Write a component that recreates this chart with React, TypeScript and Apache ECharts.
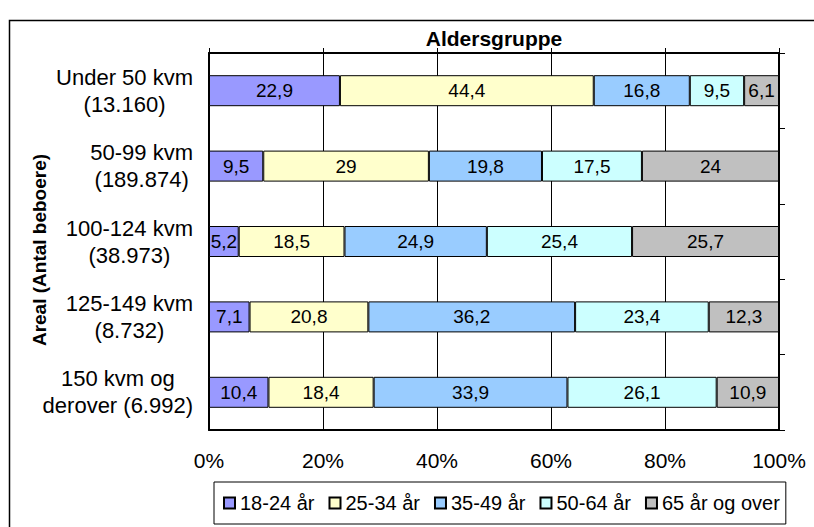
import React, { useEffect, useRef } from 'react';
import * as echarts from 'echarts';

const categories = [
  'Under 50 kvm\n(13.160)',
  '50-99 kvm\n(189.874)',
  '100-124 kvm\n(38.973)',
  '125-149 kvm\n(8.732)',
  '150 kvm og\nderover (6.992)',
];
const seriesNames = ['18-24 år', '25-34 år', '35-49 år', '50-64 år', '65 år og over'];
const age18to24 = [22.9, 9.5, 5.2, 7.1, 10.4];
const age25to34 = [44.4, 29, 18.5, 20.8, 18.4];
const age35to49 = [16.8, 19.8, 24.9, 36.2, 33.9];
const age50to64 = [9.5, 17.5, 25.4, 23.4, 26.1];
const age65plus = [6.1, 24, 25.7, 12.3, 10.9];
const colors = ['#9999FF', '#FFFFCC', '#99CCFF', '#CCFFFF', '#C0C0C0'];

const FONT = '"Liberation Sans", Arial, sans-serif';

export default function App() {
  const ref = useRef<HTMLDivElement>(null);
  useEffect(() => {
    if (!ref.current) return;
    const chart = echarts.init(ref.current, null, { renderer: 'svg' });
    const groups = [age18to24, age25to34, age35to49, age50to64, age65plus];
    const rowSums = categories.map((_, i) => groups.reduce((s, g) => s + g[i], 0));
    const series = groups.map((vals, gi) => ({
      name: seriesNames[gi],
      type: 'bar',
      stack: 'total',
      barWidth: 31,
      xAxisIndex: 0,
      yAxisIndex: 0,
      data: vals.map((v, i) => (v / rowSums[i]) * 100),
      itemStyle: { color: colors[gi], borderColor: '#000', borderWidth: 1 },
      label: {
        show: true,
        position: 'inside',
        formatter: (p: any) => String(vals[p.dataIndex]).replace('.', ','),
        fontSize: 19,
        color: '#000',
        fontFamily: FONT,
      },
    }));
    chart.setOption({
      animation: false,
      backgroundColor: '#fff',
      grid: { left: 209, top: 53, width: 570, height: 377 },
      xAxis: [
        {
          type: 'value', min: 0, max: 100, interval: 20, position: 'bottom',
          axisLine: { show: true, onZero: false, lineStyle: { color: '#000', width: 2 } },
          axisTick: { show: false },
          axisLabel: { formatter: '{value}%', fontSize: 21, color: '#000', margin: 20, fontFamily: FONT },
          splitLine: { show: true, lineStyle: { color: '#000', width: 1 } },
        },
        {
          type: 'value', min: 0, max: 100, interval: 20, position: 'top',
          axisLine: { show: true, onZero: false, lineStyle: { color: '#000', width: 2 } },
          axisTick: { show: true, length: 5, lineStyle: { color: '#000', width: 1 } },
          axisLabel: { show: false },
          splitLine: { show: false },
        },
      ],
      yAxis: [
        {
          type: 'category', data: categories, inverse: true, position: 'left',
          axisLine: { show: true, onZero: false, lineStyle: { color: '#000', width: 2 } },
          axisTick: { show: false },
          axisLabel: {
            margin: 16,
            formatter: (v: string) => v.split('\n').map((l) => `{c|${l}}`).join('\n'),
            rich: { c: { fontSize: 22, lineHeight: 27, align: 'center', color: '#000', fontFamily: FONT } },
          },
        },
        {
          type: 'category', data: categories, inverse: true, position: 'right',
          axisLine: { show: true, onZero: false, lineStyle: { color: '#000', width: 2 } },
          axisTick: { show: true, length: 6, lineStyle: { color: '#000', width: 1 } },
          axisLabel: { show: false },
        },
      ],
      legend: {
        data: seriesNames,
        left: 214, top: 482,
        borderColor: '#000', borderWidth: 1,
        padding: [11, 6, 11, 9],
        itemGap: 14, itemWidth: 11, itemHeight: 11, icon: 'rect',
        textStyle: { fontSize: 20, color: '#000', fontFamily: FONT },
      },
      graphic: [
        {
          type: 'rect', silent: true,
          shape: { x: 9.5, y: 20.5, width: 900, height: 700 },
          style: { fill: 'none', stroke: '#000', lineWidth: 1.5 },
        },
        {
          type: 'text', x: 494, y: 38,
          style: { text: 'Aldersgruppe', align: 'center', verticalAlign: 'middle', font: `bold 21px ${FONT}`, fill: '#000' },
        },
        {
          type: 'text', x: 39, y: 250, rotation: Math.PI / 2,
          style: { text: 'Areal (Antal beboere)', align: 'center', verticalAlign: 'middle', font: `bold 19px ${FONT}`, fill: '#000' },
        },
      ],
      series,
    });
    return () => chart.dispose();
  }, []);
  return <div ref={ref} style={{ position: 'absolute', left: 0, top: 0, width: 814, height: 527 }} />;
}
